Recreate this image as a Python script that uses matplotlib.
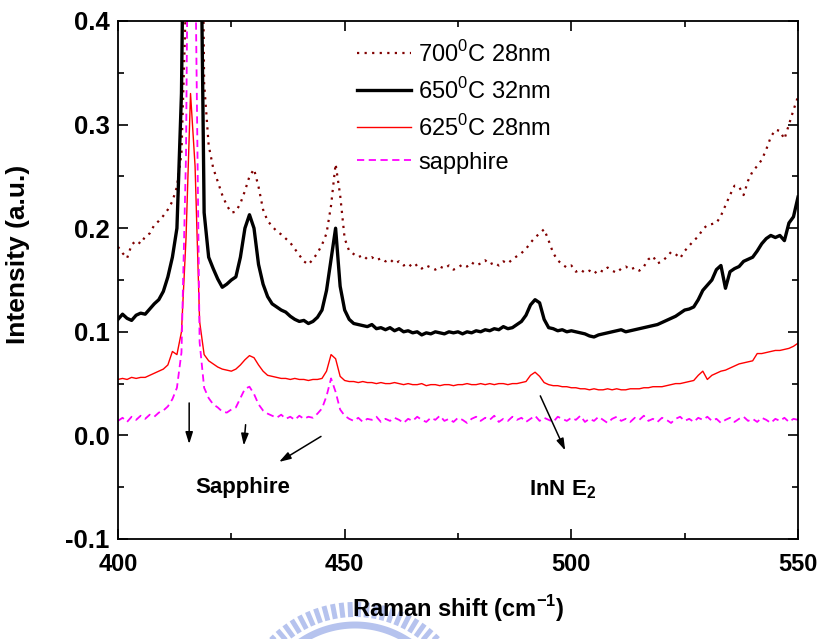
import numpy as np
import matplotlib
matplotlib.use("Agg")
import matplotlib.pyplot as plt

plt.rcParams['font.family'] = ['Liberation Sans', 'DejaVu Sans']
plt.rcParams['mathtext.fontset'] = 'custom'
plt.rcParams['mathtext.rm'] = 'Liberation Sans'
plt.rcParams['mathtext.bf'] = 'Liberation Sans:bold'

# Raman shift grid (cm^-1), one point per wavenumber
shift = np.arange(400, 551)

labels = ["700$^{0}$C 28nm", "650$^{0}$C 32nm", "625$^{0}$C 28nm", "sapphire"]

int_700 = [
    0.182, 0.176, 0.171, 0.184, 0.188, 0.185, 0.192, 0.195, 0.203, 0.207,
    0.212, 0.218, 0.226, 0.240, 0.272, 0.420, 0.900, 1.000, 0.800, 0.340,
    0.280, 0.258, 0.245, 0.232, 0.222, 0.215, 0.216, 0.224, 0.236, 0.250,
    0.257, 0.240, 0.218, 0.207, 0.202, 0.197, 0.194, 0.190, 0.186, 0.180,
    0.174, 0.168, 0.165, 0.170, 0.176, 0.184, 0.195, 0.222, 0.262, 0.232,
    0.190, 0.178, 0.175, 0.172, 0.174, 0.170, 0.172, 0.169, 0.171, 0.168,
    0.170, 0.166, 0.168, 0.164, 0.166, 0.162, 0.165, 0.161, 0.164, 0.162,
    0.160, 0.163, 0.161, 0.164, 0.160, 0.162, 0.165, 0.163, 0.167, 0.164,
    0.166, 0.169, 0.165, 0.167, 0.164, 0.168, 0.166, 0.170, 0.173, 0.176,
    0.180, 0.186, 0.191, 0.195, 0.199, 0.188, 0.176, 0.169, 0.165, 0.162,
    0.164, 0.158, 0.160, 0.157, 0.159, 0.156, 0.160, 0.158, 0.162, 0.159,
    0.157, 0.161, 0.163, 0.160, 0.162, 0.159, 0.163, 0.170, 0.173, 0.166,
    0.168, 0.172, 0.177, 0.175, 0.171, 0.178, 0.183, 0.188, 0.192, 0.199,
    0.203, 0.204, 0.205, 0.212, 0.222, 0.232, 0.241, 0.240, 0.232, 0.246,
    0.255, 0.260, 0.266, 0.276, 0.288, 0.295, 0.294, 0.286, 0.300, 0.314,
    0.327]

int_650 = [
    0.112, 0.117, 0.113, 0.111, 0.116, 0.118, 0.117, 0.122, 0.127, 0.131,
    0.139, 0.153, 0.172, 0.200, 0.330, 0.700, 0.900, 1.000, 0.600, 0.215,
    0.172, 0.161, 0.151, 0.143, 0.146, 0.150, 0.153, 0.172, 0.200, 0.213,
    0.200, 0.165, 0.146, 0.134, 0.127, 0.124, 0.121, 0.119, 0.115, 0.112,
    0.110, 0.111, 0.108, 0.110, 0.114, 0.121, 0.140, 0.170, 0.200, 0.144,
    0.121, 0.112, 0.108, 0.107, 0.106, 0.105, 0.107, 0.103, 0.104, 0.102,
    0.104, 0.101, 0.103, 0.100, 0.101, 0.099, 0.100, 0.097, 0.099, 0.098,
    0.100, 0.099, 0.098, 0.100, 0.099, 0.100, 0.098, 0.100, 0.099, 0.101,
    0.100, 0.102, 0.101, 0.103, 0.102, 0.105, 0.103, 0.104, 0.107, 0.110,
    0.116, 0.126, 0.131, 0.128, 0.112, 0.104, 0.103, 0.101, 0.102, 0.100,
    0.101, 0.100, 0.099, 0.098, 0.096, 0.095, 0.097, 0.098, 0.099, 0.100,
    0.101, 0.102, 0.100, 0.101, 0.102, 0.103, 0.104, 0.105, 0.106, 0.107,
    0.109, 0.111, 0.113, 0.115, 0.118, 0.121, 0.122, 0.124, 0.131, 0.140,
    0.145, 0.150, 0.160, 0.164, 0.142, 0.158, 0.161, 0.163, 0.168, 0.170,
    0.172, 0.178, 0.185, 0.190, 0.193, 0.191, 0.193, 0.188, 0.205, 0.211,
    0.230]

int_625 = [
    0.054, 0.055, 0.054, 0.056, 0.055, 0.056, 0.056, 0.058, 0.060, 0.062,
    0.064, 0.068, 0.081, 0.078, 0.100, 0.190, 0.330, 0.260, 0.110, 0.078,
    0.072, 0.069, 0.066, 0.064, 0.063, 0.062, 0.064, 0.068, 0.073, 0.077,
    0.075, 0.068, 0.062, 0.058, 0.057, 0.056, 0.055, 0.055, 0.054, 0.055,
    0.054, 0.054, 0.053, 0.054, 0.054, 0.055, 0.062, 0.078, 0.074, 0.057,
    0.053, 0.052, 0.052, 0.051, 0.052, 0.051, 0.051, 0.050, 0.051, 0.050,
    0.050, 0.051, 0.050, 0.049, 0.050, 0.049, 0.049, 0.050, 0.048, 0.049,
    0.049, 0.048, 0.049, 0.049, 0.048, 0.049, 0.049, 0.050, 0.049, 0.049,
    0.050, 0.049, 0.050, 0.049, 0.050, 0.050, 0.049, 0.050, 0.050, 0.051,
    0.052, 0.058, 0.061, 0.057, 0.051, 0.049, 0.048, 0.048, 0.047, 0.047,
    0.046, 0.046, 0.045, 0.045, 0.044, 0.045, 0.044, 0.044, 0.045, 0.044,
    0.045, 0.044, 0.044, 0.045, 0.045, 0.045, 0.046, 0.046, 0.047, 0.047,
    0.047, 0.048, 0.049, 0.050, 0.050, 0.051, 0.052, 0.053, 0.058, 0.062,
    0.054, 0.058, 0.060, 0.062, 0.063, 0.065, 0.067, 0.069, 0.070, 0.071,
    0.072, 0.079, 0.079, 0.080, 0.081, 0.082, 0.082, 0.083, 0.084, 0.086,
    0.089]

int_sapphire = [
    0.014, 0.017, 0.013, 0.018, 0.015, 0.019, 0.016, 0.020, 0.018, 0.022,
    0.024, 0.028, 0.035, 0.046, 0.080, 0.270, 0.800, 0.480, 0.090, 0.046,
    0.036, 0.030, 0.027, 0.023, 0.022, 0.025, 0.027, 0.036, 0.045, 0.047,
    0.040, 0.030, 0.024, 0.021, 0.019, 0.017, 0.020, 0.016, 0.018, 0.015,
    0.019, 0.016, 0.018, 0.017, 0.021, 0.026, 0.038, 0.055, 0.042, 0.025,
    0.019, 0.016, 0.014, 0.017, 0.013, 0.016, 0.015, 0.018, 0.013, 0.016,
    0.014, 0.017, 0.015, 0.012, 0.016, 0.014, 0.018, 0.015, 0.013, 0.017,
    0.015, 0.019, 0.014, 0.016, 0.013, 0.017, 0.015, 0.012, 0.016, 0.018,
    0.014, 0.017, 0.015, 0.019, 0.013, 0.016, 0.014, 0.018, 0.015, 0.017,
    0.013, 0.016, 0.019, 0.014, 0.017, 0.015, 0.013, 0.018, 0.016, 0.014,
    0.017, 0.015, 0.019, 0.013, 0.016, 0.014, 0.018, 0.015, 0.012, 0.016,
    0.018, 0.014, 0.016, 0.013, 0.017, 0.015, 0.019, 0.014, 0.016, 0.013,
    0.017, 0.015, 0.012, 0.016, 0.018, 0.014, 0.016, 0.013, 0.017, 0.015,
    0.018, 0.014, 0.016, 0.012, 0.015, 0.017, 0.013, 0.016, 0.018, 0.014,
    0.016, 0.013, 0.017, 0.015, 0.012, 0.016, 0.014, 0.017, 0.013, 0.016,
    0.015]

fig = plt.figure(figsize=(8.26, 6.39), dpi=100)

# faint blue emblem sitting behind the x label
bg = fig.add_axes([0, 0, 1, 1], zorder=-1)
bg.set_xlim(0, 826)
bg.set_ylim(639, 0)
bg.axis('off')
cx, cy, r_in, r_out = 355, 722, 105, 120
for ang in np.arange(42, 140, 4.2):
    a = np.deg2rad(ang)
    bg.plot([cx + r_in * np.cos(a), cx + r_out * np.cos(a)],
            [cy - r_in * np.sin(a), cy - r_out * np.sin(a)],
            color='#b6c3ee', lw=3.6, solid_capstyle='butt')
arc = np.deg2rad(np.linspace(35, 145, 80))
bg.plot(cx + 97 * np.cos(arc), cy - 97 * np.sin(arc), color='#b6c3ee', lw=5)

ax = fig.add_axes([118 / 826, 100 / 639, 680 / 826, 518 / 639])

ax.plot(shift, int_700, color='#800000', lw=1.6, linestyle=(0, (1, 2.4)), label=labels[0])
ax.plot(shift, int_650, color='black', lw=2.4, label=labels[1])
ax.plot(shift, int_625, color='#ff0000', lw=1.0, label=labels[2])
ax.plot(shift, int_sapphire, color='#ff00ff', lw=1.3, linestyle=(0, (4, 2.5)), label=labels[3])

ax.set_xlim(400, 550)
ax.set_ylim(-0.1, 0.4)
ax.set_xticks([400, 450, 500, 550])
ax.set_xticks([425, 475, 525], minor=True)
ax.set_yticks([-0.1, 0.0, 0.1, 0.2, 0.3, 0.4])
ax.set_yticks([-0.05, 0.05, 0.15, 0.25, 0.35], minor=True)
ax.set_yticklabels(['-0.1', '0.0', '0.1', '0.2', '0.3', '0.4'])
ax.tick_params(which='both', direction='in', top=True, right=True, width=1.2)
ax.tick_params(which='major', length=7)
ax.tick_params(which='minor', length=4)
ax.tick_params(axis='x', which='major', labelsize=17, pad=10)
ax.tick_params(axis='y', which='major', labelsize=18.5, pad=6)
for lab in ax.get_xticklabels() + ax.get_yticklabels():
    lab.set_fontweight('bold')
for sp in ax.spines.values():
    sp.set_linewidth(1.3)

ax.set_xlabel(r"Raman shift (cm$^{\mathbf{-1}}$)", fontsize=17, fontweight='bold')
ax.set_ylabel("Intensity (a.u.)", fontsize=19, fontweight='bold')
ax.xaxis.set_label_coords(0.5, -0.105)
ax.yaxis.set_label_coords(-0.13, 0.55)

leg = ax.legend(loc='upper left', bbox_to_anchor=(0.351, 0.962), frameon=False,
                fontsize=17, handlelength=2.3, handletextpad=0.3,
                labelspacing=0.47, borderpad=0, borderaxespad=0)

arrow = dict(arrowstyle='-|>,head_length=0.7,head_width=0.22', color='black', lw=1.1)
ax.annotate('', xy=(415.7, -0.011), xytext=(415.7, 0.034), arrowprops=arrow)
ax.annotate('', xy=(427.7, -0.0125), xytext=(428.2, 0.013), arrowprops=arrow)
ax.annotate('', xy=(435.0, -0.027), xytext=(445.3, 0.0004), arrowprops=arrow)
ax.annotate('', xy=(498.9, -0.017), xytext=(492.9, 0.0406), arrowprops=arrow)
ax.text(427.6, -0.050, "Sapphire", fontsize=16, fontweight='bold', ha='center', va='center')
ax.text(498.0, -0.052, r"InN E$_{\mathbf{2}}$", fontsize=16, fontweight='bold', ha='center', va='center')

fig.savefig("out.png", dpi=100)
